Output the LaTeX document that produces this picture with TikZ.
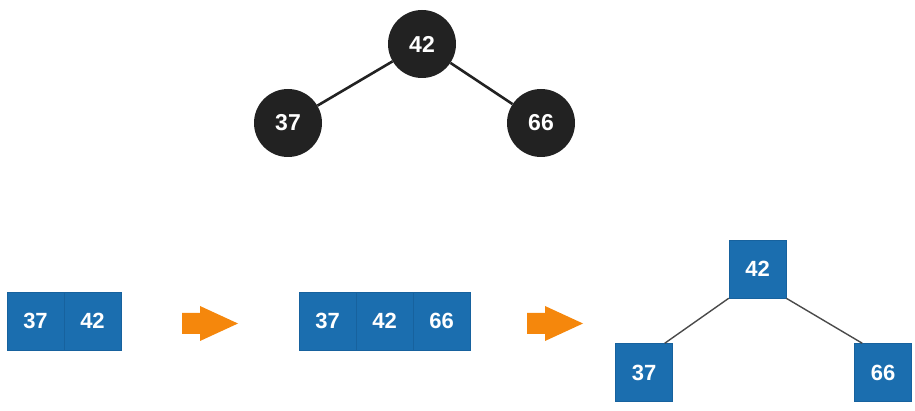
\documentclass[tikz,border=0pt]{standalone}
\usepackage{fontspec}
\setmainfont{Liberation Sans}
\definecolor{cellblue}{HTML}{1B6EAF}
\definecolor{celledge}{HTML}{17629E}
\definecolor{arrorange}{HTML}{F5870C}
\definecolor{circblack}{HTML}{222222}
\definecolor{edgegray}{HTML}{4A4A4A}
\begin{document}
\begin{tikzpicture}[x=1pt,y=-1pt,
  circ/.style={circle, fill=circblack, minimum size=68pt, inner sep=0pt, text=white,
    font=\bfseries\fontsize{23}{27}\selectfont},
  cell/.style={rectangle, fill=cellblue, draw=celledge, line width=0.5pt,
    minimum width=57pt, minimum height=58pt, inner sep=0pt, text=white,
    font=\bfseries\fontsize{22}{26}\selectfont},
  treeedge/.style={draw=circblack, line width=2.6pt},
  celltreeedge/.style={draw=edgegray, line width=1.4pt},
  orangearrow/.style={fill=arrorange}
]
\useasboundingbox (0,0) rectangle (915,411);

% top tree
\node[circ] (t42) at (422,44) {42};
\node[circ] (t37) at (288,123) {37};
\node[circ] (t66) at (541,123) {66};
\draw[treeedge] (t42) -- (t37);
\draw[treeedge] (t42) -- (t66);

% first array
\node[cell] (a37) at (35.5,321) {37};
\node[cell] (a42) at (92.5,321) {42};

% arrow 1
\coordinate (p1) at (182,323);
\fill[orangearrow] (p1) ++(0,-10) -- ++(18,0) -- ++(0,-7) -- ++(38,17.5) -- ++(-38,17.5) -- ++(0,-7) -- ++(-18,0) -- cycle;

% second array
\node[cell] (b37) at (327.5,321) {37};
\node[cell] (b42) at (384.5,321) {42};
\node[cell] (b66) at (441.5,321) {66};

% arrow 2
\coordinate (p2) at (527,323);
\fill[orangearrow] (p2) ++(0,-10) -- ++(18,0) -- ++(0,-7) -- ++(38,17.5) -- ++(-38,17.5) -- ++(0,-7) -- ++(-18,0) -- cycle;

% bottom tree
\node[cell] (c42) at (757.5,269) {42};
\node[cell] (c37) at (644,372.5) {37};
\node[cell] (c66) at (883,372.5) {66};
\draw[celltreeedge] (c42.south west) -- ([xshift=-8pt]c37.north east);
\draw[celltreeedge] (c42.south east) -- ([xshift=8pt]c66.north west);
\end{tikzpicture}
\end{document}
